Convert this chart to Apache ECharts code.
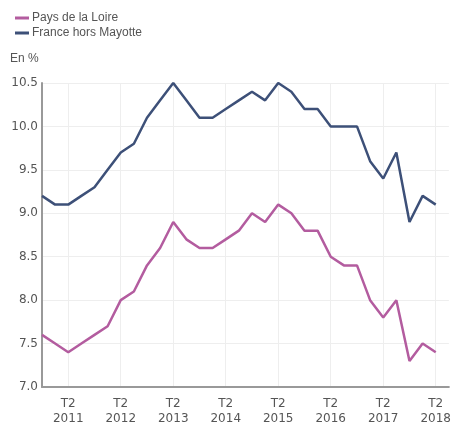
<!DOCTYPE html>
<html>
<head>
<meta charset="utf-8">
<script src="https://cdn.jsdelivr.net/npm/echarts@6/dist/echarts.min.js"></script>
<style>
html,body{margin:0;padding:0;background:#fff;}
#c{width:454px;height:427px;}
</style>
</head>
<body>
<div id="c"></div>
<script>
var categories = [
  'T4 2010',
  'T1 2011','T2 2011','T3 2011','T4 2011',
  'T1 2012','T2 2012','T3 2012','T4 2012',
  'T1 2013','T2 2013','T3 2013','T4 2013',
  'T1 2014','T2 2014','T3 2014','T4 2014',
  'T1 2015','T2 2015','T3 2015','T4 2015',
  'T1 2016','T2 2016','T3 2016','T4 2016',
  'T1 2017','T2 2017','T3 2017','T4 2017',
  'T1 2018','T2 2018','T3 2018'
];
var paysDeLaLoire = [7.6,7.5,7.4,7.5,7.6,7.7,8.0,8.1,8.4,8.6,8.9,8.7,8.6,8.6,8.7,8.8,9.0,8.9,9.1,9.0,8.8,8.8,8.5,8.4,8.4,8.0,7.8,8.0,7.3,7.5,7.4];
var franceHorsMayotte = [9.2,9.1,9.1,9.2,9.3,9.5,9.7,9.8,10.1,10.3,10.5,10.3,10.1,10.1,10.2,10.3,10.4,10.3,10.5,10.4,10.2,10.2,10.0,10.0,10.0,9.6,9.4,9.7,8.9,9.2,9.1];
var seriesNames = ['Pays de la Loire','France hors Mayotte'];
var yTicks = {min:7.0, max:10.5, step:0.5};

var isT2 = function(idx, val){ return categories[idx].indexOf('T2') === 0; };
var chart = echarts.init(document.getElementById('c'));
chart.setOption({
  animation:false,
  color:['#b35c9f','#3d5078'],
  legend:{
    orient:'vertical', left:10, top:7, itemGap:3,
    icon:'rect', itemWidth:14, itemHeight:3,
    textStyle:{fontFamily:'Liberation Sans', fontSize:12, color:'#555', padding:[0,0,0,-2]},
    data:seriesNames
  },
  graphic:[{type:'text', left:10, top:53, style:{text:'En %', font:'12px "Liberation Sans"', fill:'#555'}}],
  grid:{left:42, right:5, top:83, bottom:40},
  xAxis:{
    type:'category', boundaryGap:false, data:categories,
    axisLine:{lineStyle:{color:'#999', width:2}},
    axisTick:{show:false},
    axisLabel:{
      interval:isT2, color:'#555', fontFamily:'DejaVu Sans', fontSize:12, lineHeight:15, margin:9,
      formatter:function(v){ var p=v.split(' '); return p[0]+'\n'+p[1]; }
    },
    splitLine:{show:true, interval:isT2, lineStyle:{color:'#eeeeee', width:1}}
  },
  yAxis:{
    type:'value', min:yTicks.min, max:yTicks.max, interval:yTicks.step,
    axisLine:{show:true, lineStyle:{color:'#999', width:2}},
    axisTick:{show:false},
    axisLabel:{color:'#555', fontFamily:'DejaVu Sans', fontSize:12, margin:4, formatter:function(v){return v.toFixed(1);}},
    splitLine:{lineStyle:{color:'#eeeeee', width:1}}
  },
  series:[
    {name:seriesNames[0], type:'line', data:paysDeLaLoire, symbol:'none', lineStyle:{width:2.5}},
    {name:seriesNames[1], type:'line', data:franceHorsMayotte, symbol:'none', lineStyle:{width:2.5}}
  ]
});
</script>
</body>
</html>
